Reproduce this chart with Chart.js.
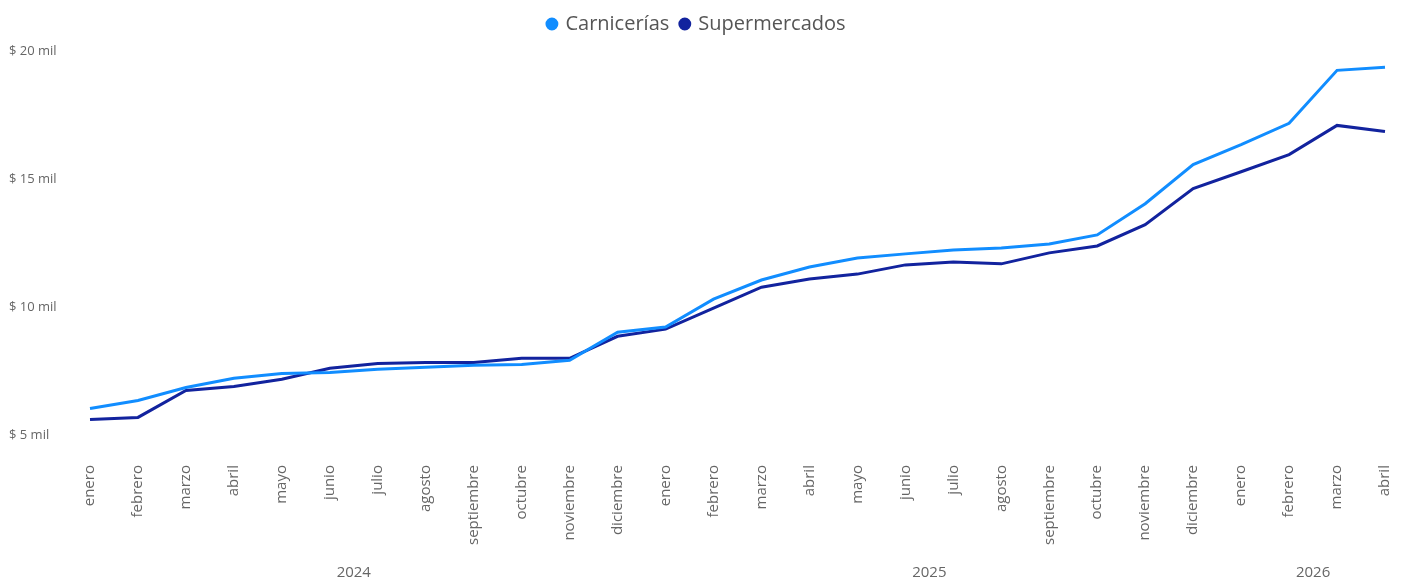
<!DOCTYPE html>
<html>
<head>
<meta charset="utf-8">
<script src="https://cdn.jsdelivr.net/npm/chart.js@4.4.1/dist/chart.umd.min.js"></script>
<style>
  html, body { margin: 0; padding: 0; background: #fff; }
  #wrap { width: 1425px; height: 585px; }
</style>
</head>
<body>
<div id="wrap"><canvas id="grafico"></canvas></div>
<script>
const meses = ['enero', 'febrero', 'marzo', 'abril', 'mayo', 'junio', 'julio', 'agosto', 'septiembre', 'octubre', 'noviembre', 'diciembre',
  'enero', 'febrero', 'marzo', 'abril', 'mayo', 'junio', 'julio', 'agosto', 'septiembre', 'octubre', 'noviembre', 'diciembre',
  'enero', 'febrero', 'marzo', 'abril'];
const anios = [
  { label: '2024', desde: 0, hasta: 11 },
  { label: '2025', desde: 12, hasta: 23 },
  { label: '2026', desde: 24, hasta: 27 },
];
const carnicerias = [6060, 6370, 6880, 7240, 7430, 7470, 7590, 7670, 7750, 7780, 7940, 9040,
  9240, 10330, 11080, 11590, 11940, 12100, 12250, 12330, 12490, 12840, 14060, 15590,
  16370, 17200, 19270, 19390];
const supermercados = [5630, 5710, 6760, 6920, 7200, 7630, 7820, 7860, 7860, 8020, 8020, 8880,
  9160, 9980, 10800, 11120, 11310, 11670, 11780, 11710, 12140, 12410, 13240, 14650,
  15310, 15980, 17120, 16880];
const ticksY = [5000, 10000, 15000, 20000];

const gris = '#666666';
const fuente = '"Open Sans", "Noto Sans", sans-serif';

// etiquetas de año centradas bajo cada grupo de meses
const etiquetasAnio = {
  id: 'etiquetasAnio',
  afterDraw(chart) {
    const x = chart.scales.x;
    const ctx = chart.ctx;
    ctx.save();
    ctx.font = '15px ' + fuente;
    ctx.fillStyle = gris;
    ctx.textAlign = 'center';
    ctx.textBaseline = 'middle';
    anios.forEach(a => {
      const cx = (x.getPixelForValue(a.desde) + x.getPixelForValue(a.hasta)) / 2;
      ctx.fillText(a.label, cx, 573);
    });
    ctx.restore();
  }
};

new Chart(document.getElementById('grafico').getContext('2d'), {
  type: 'line',
  data: {
    labels: meses,
    datasets: [
      {
        label: 'Carnicerías',
        data: carnicerias,
        borderColor: '#118DFF',
        backgroundColor: '#118DFF',
        borderWidth: 3,
        pointRadius: 0,
        tension: 0,
      },
      {
        label: 'Supermercados',
        data: supermercados,
        borderColor: '#12239E',
        backgroundColor: '#12239E',
        borderWidth: 3,
        pointRadius: 0,
        tension: 0,
      },
    ],
  },
  options: {
    responsive: true,
    maintainAspectRatio: false,
    animation: false,
    layout: { padding: { left: 9, right: 40, top: 2, bottom: 31 } },
    plugins: {
      legend: {
        position: 'top',
        labels: {
          usePointStyle: true,
          pointStyle: 'circle',
          boxWidth: 7,
          boxHeight: 7,
          padding: 12,
          color: '#555555',
          font: { size: 20, family: fuente },
        },
      },
      tooltip: { enabled: false },
    },
    scales: {
      x: {
        offset: false,
        grid: { display: false, drawTicks: false },
        border: { display: false },
        ticks: {
          color: gris,
          font: { size: 15, family: fuente },
          maxRotation: 90,
          minRotation: 90,
          padding: 9,
          autoSkip: false,
        },
      },
      y: {
        min: 4200,
        max: 20300,
        grid: { display: false, drawTicks: false },
        border: { display: false },
        afterBuildTicks: scale => { scale.ticks = ticksY.map(v => ({ value: v })); },
        afterFit: scale => { scale.width = 81; },
        ticks: {
          color: gris,
          font: { size: 13, family: fuente },
          crossAlign: 'far',
          callback: v => '$ ' + (v / 1000) + ' mil',
        },
      },
    },
  },
  plugins: [etiquetasAnio],
});
</script>
</body>
</html>
